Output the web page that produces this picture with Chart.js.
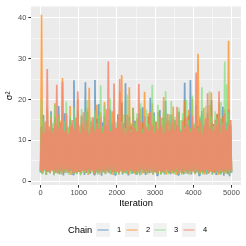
<!DOCTYPE html>
<html>
<head>
<meta charset="utf-8">
<script src="https://cdn.jsdelivr.net/npm/chart.js@4/dist/chart.umd.min.js"></script>
<style>
html,body{margin:0;padding:0;background:#fff;}
canvas{display:block;}
</style>
</head>
<body>
<canvas id="c" width="246" height="246"></canvas>
<script>
// ---- data: thinned trace, one value every 25 iterations (values read as the
// low / high extent of each pixel column of the reference trace) ----
const chainNames = ['1', '2', '3', '4'];
const thin = 25;
const chain1 = [
2.1,13.4,1.8,16.2,2.6,11.8,1.5,14.9,2.3,12.6,1.9,17.1,2.7,13.0,1.6,15.5,2.2,12.1,2.0,18.4,
1.7,14.2,2.4,12.9,1.4,16.6,2.1,13.7,2.8,11.5,1.9,15.1,2.5,13.3,1.6,24.7,2.2,14.0,1.8,17.3,
2.3,12.4,1.7,15.8,2.6,13.1,1.5,24.2,2.0,16.9,2.4,12.2,1.8,14.6,2.9,13.5,1.6,24.8,2.1,15.3,
1.9,18.9,2.5,12.7,1.3,14.4,2.2,16.0,1.8,13.2,2.6,11.9,2.0,17.6,1.7,13.9,2.4,15.2,1.5,12.5,
2.2,16.4,1.9,13.6,2.7,19.2,1.6,14.1,2.3,24.0,2.0,12.8,1.4,15.7,2.5,13.4,1.8,17.9,2.1,14.8,
1.7,12.3,2.4,16.5,1.6,13.8,2.8,18.1,2.0,14.3,1.5,12.6,2.3,15.9,1.9,20.4,2.6,13.1,1.8,16.8,
2.1,14.5,1.4,12.9,2.5,17.4,1.8,13.6,2.2,15.6,1.6,19.6,2.7,12.4,2.0,14.9,1.7,16.3,2.4,13.2,
1.9,15.0,2.3,13.7,1.5,17.0,2.6,12.5,2.0,14.7,1.7,24.1,2.4,13.9,1.8,16.1,2.2,24.8,1.6,14.2,
2.5,12.8,1.9,18.6,2.1,13.5,1.4,15.4,2.7,17.2,1.8,12.7,2.3,14.6,1.6,16.7,2.0,13.3,2.6,19.8,
1.7,14.0,2.2,12.6,1.5,16.4,2.4,13.8,1.9,15.3,2.1,18.2,1.3,12.9,2.5,14.4,1.8,17.5,1.2,13.6,
2.0];
const chain2 = [
2.4,40.8,1.9,14.3,2.7,12.2,1.6,17.5,2.2,13.4,2.0,15.9,2.8,12.6,1.7,19.1,2.3,13.9,1.8,16.2,
2.5,14.8,1.6,25.3,2.1,12.4,2.6,16.7,1.9,13.1,2.3,18.4,1.5,14.0,2.7,12.8,2.0,15.6,1.8,20.1,
2.2,13.3,1.7,16.1,2.6,12.0,1.9,14.6,2.4,17.8,1.5,22.9,2.1,13.7,2.8,15.2,1.8,12.9,2.3,18.7,
2.0,14.2,1.6,16.9,2.5,12.5,2.2,19.4,1.8,13.6,2.7,15.0,1.9,12.3,2.4,17.1,1.5,14.5,2.1,13.0,
2.6,15.8,1.7,21.8,2.3,26.0,1.9,13.2,2.0,16.4,2.8,12.7,1.6,23.0,2.2,14.1,2.5,18.0,1.8,13.8,
2.1,15.4,1.9,12.6,2.4,17.7,1.6,14.4,2.7,21.9,2.0,13.5,1.8,16.6,2.3,12.2,2.6,19.0,1.5,14.7,
2.2,13.9,1.9,17.0,2.5,12.8,1.7,15.5,2.1,20.6,2.8,13.4,1.6,14.9,2.4,16.3,2.0,12.5,1.8,18.3,
2.3,14.6,1.5,13.0,2.6,16.8,2.0,12.4,1.8,15.1,2.2,19.7,1.9,13.7,2.7,17.4,1.6,12.9,2.4,20.2,
2.1,13.8,1.7,16.0,2.5,31.2,1.9,14.3,2.3,12.7,2.0,17.9,1.6,13.5,2.8,15.7,1.8,18.6,2.2,21.8,
2.4,14.0,1.9,12.6,2.6,16.5,1.5,19.3,2.1,13.3,2.3,15.8,1.8,17.6,2.0,12.8,1.7,34.4,2.5,14.9,
2.2];
const chain3 = [
2.0,20.0,1.7,15.3,2.4,13.1,1.5,17.9,2.2,12.7,1.9,16.5,2.6,14.2,1.4,18.8,2.1,13.6,1.8,15.9,
2.3,12.9,1.6,17.2,2.5,14.8,1.9,19.5,2.0,13.4,1.5,16.0,2.4,12.6,1.8,18.1,2.2,14.5,1.7,15.4,
2.6,13.8,1.4,17.6,2.1,12.5,1.9,16.8,2.3,19.9,1.6,13.2,2.5,15.6,2.0,12.9,1.8,17.3,2.2,14.1,
1.5,16.2,2.4,23.4,1.9,13.5,2.1,18.5,1.7,12.8,2.6,15.1,2.0,20.3,1.6,13.9,2.3,16.9,1.8,14.4,
2.2,12.6,1.5,18.2,2.5,14.6,1.9,16.3,2.0,13.0,1.7,21.2,2.4,15.5,1.6,12.7,2.1,17.8,2.3,14.3,
1.8,16.6,2.0,13.3,1.4,19.1,2.5,12.8,1.9,15.8,2.2,17.5,1.6,14.0,2.4,13.6,2.1,23.6,1.7,16.1,
2.3,14.7,1.9,18.7,2.6,12.4,1.5,15.2,2.0,17.0,1.8,22.0,2.2,13.7,1.6,16.4,2.5,19.6,2.0,13.1,
1.7,15.7,2.3,12.6,1.9,18.0,2.1,14.9,1.5,16.7,2.4,13.4,1.8,20.0,2.2,15.0,1.6,12.9,2.0,21.0,
2.5,14.2,1.7,17.4,2.1,13.1,1.9,16.0,2.3,23.0,1.6,12.7,2.4,18.4,2.0,14.6,1.8,22.0,2.2,15.9,
1.5,13.5,2.6,17.1,1.9,15.4,2.1,12.8,1.7,19.4,2.3,14.3,2.0,29.3,1.8,23.7,2.4,16.8,1.6,14.0,
2.1];
const chain4 = [
2.6,13.2,2.2,11.7,2.9,14.6,2.3,27.5,2.5,12.4,2.1,15.3,2.8,11.9,2.4,13.8,2.0,23.6,2.7,12.9,
2.3,14.1,2.6,24.3,2.1,12.2,2.9,16.4,2.4,11.6,2.2,13.5,2.7,15.0,2.0,12.7,2.5,14.4,2.3,22.0,
2.8,11.8,2.2,13.9,2.4,16.9,2.6,12.5,2.1,14.8,2.9,11.4,2.3,13.3,2.5,15.7,2.0,12.1,2.7,14.2,
2.4,12.8,2.2,15.5,2.6,11.9,2.3,13.6,2.8,17.6,2.1,29.3,2.5,12.3,2.9,14.0,2.2,23.9,2.6,13.1,
2.3,15.1,2.0,25.0,2.7,12.6,2.4,14.3,2.2,11.5,2.6,16.2,2.1,13.4,2.8,12.0,2.5,14.9,2.3,13.0,
2.6,12.2,2.2,23.8,2.4,14.6,2.9,11.8,2.1,15.8,2.5,13.2,2.3,12.4,2.7,17.0,2.0,13.7,2.6,11.9,
2.4,14.5,2.2,12.7,2.8,15.9,2.3,13.4,2.5,11.7,2.1,14.1,2.7,16.5,2.4,12.3,2.2,13.9,2.6,15.2,
2.3,12.6,2.9,18.2,2.1,13.3,2.5,11.9,2.4,14.7,2.2,12.9,2.7,15.6,2.0,13.5,2.6,12.0,2.3,16.0,
2.5,13.1,2.2,26.6,2.8,12.4,2.4,14.8,2.1,11.6,2.6,13.7,2.3,15.4,2.7,21.5,2.0,12.8,2.5,14.3,
2.2,12.2,2.6,15.1,2.4,13.6,2.1,22.0,2.8,11.8,2.3,14.0,2.5,16.6,2.2,12.5,2.7,13.8,2.4,15.0,
2.6];
const xTickValues = [0,500,1000,1500,2000,2500,3000,3500,4000,4500,5000];
const yTickValues = [0,5,10,15,20,25,30,35,40];
const xMajorStep = 1000;
const yMajorStep = 10;

// ---- styling ----
const chainColors = ['rgba(55,126,184,0.65)','rgba(255,127,0,0.65)','rgba(120,222,110,0.65)','rgba(246,134,112,0.85)'];
const FONT = '"Liberation Sans", Arial, sans-serif';

const series = [chain1, chain2, chain3, chain4];
const datasets = series.map((vals, k) => ({
  label: chainNames[k],
  data: vals.map((v, i) => ({x: i * thin, y: v})),
  borderColor: chainColors[k],
  backgroundColor: chainColors[k],
  borderWidth: 1.7,
  borderJoinStyle: 'bevel',
  pointRadius: 0,
  tension: 0,
  fill: false,
  order: 4 - k
}));

const panelBg = {
  id: 'panelBg',
  beforeDraw(chart) {
    const {ctx, chartArea: a} = chart;
    ctx.save();
    ctx.fillStyle = '#EBEBEB';
    ctx.fillRect(a.left, a.top, a.right - a.left, a.bottom - a.top);
    ctx.restore();
  }
};

const ggLegend = {
  id: 'ggLegend',
  afterDraw(chart) {
    const ctx = chart.ctx;
    const cy = 230;
    ctx.save();
    ctx.textBaseline = 'middle';
    ctx.fillStyle = '#000';
    ctx.font = '9.3px ' + FONT;
    ctx.textAlign = 'left';
    ctx.fillText('Chain', 68, cy);
    const keyX = [96, 125, 153, 182];
    chart.data.datasets.forEach((ds, k) => {
      const x = keyX[k];
      ctx.fillStyle = '#F2F2F2';
      ctx.fillRect(x, cy - 7, 14, 14);
      ctx.strokeStyle = ds.borderColor;
      ctx.lineWidth = 1.1;
      ctx.beginPath();
      ctx.moveTo(x + 1.5, cy);
      ctx.lineTo(x + 12.5, cy);
      ctx.stroke();
      ctx.fillStyle = '#000';
      ctx.font = '7.5px ' + FONT;
      ctx.fillText(ds.label, x + 21, cy);
    });
    ctx.restore();
  }
};

new Chart(document.getElementById('c'), {
  type: 'line',
  data: {datasets},
  plugins: [panelBg, ggLegend],
  options: {
    responsive: false,
    devicePixelRatio: 1,
    animation: false,
    layout: {padding: {left: 0, right: 5, top: 4, bottom: 0}},
    plugins: {legend: {display: false}, tooltip: {enabled: false}},
    scales: {
      x: {
        type: 'linear',
        min: -250, max: 5250,
        afterBuildTicks: s => { s.ticks = xTickValues.map(v => ({value: v})); },
        afterFit: s => { s.height = 61; },
        border: {display: false},
        grid: {
          color: '#FFFFFF',
          lineWidth: c => (c.tick && c.tick.value % xMajorStep === 0) ? 1 : 0.5,
          drawTicks: true,
          tickLength: 2.7,
          tickWidth: 1,
          tickColor: c => (c.tick && c.tick.value % xMajorStep === 0) ? '#333333' : 'rgba(0,0,0,0)'
        },
        ticks: {
          autoSkip: false, maxRotation: 0, padding: 1,
          color: '#4D4D4D',
          font: {family: FONT, size: 7.5},
          callback: v => (v % xMajorStep === 0) ? String(v) : ''
        },
        title: {
          display: true, text: 'Iteration', color: '#000',
          font: {family: FONT, size: 9.3},
          padding: {top: 0, bottom: 37}
        }
      },
      y: {
        type: 'linear',
        min: -0.96, max: 42.8,
        afterBuildTicks: s => { s.ticks = yTickValues.map(v => ({value: v})); },
        afterFit: s => { s.width = 31; },
        border: {display: false},
        grid: {
          color: '#FFFFFF',
          lineWidth: c => (c.tick && c.tick.value % yMajorStep === 0) ? 1 : 0.5,
          drawTicks: true,
          tickLength: 2.7,
          tickWidth: 1,
          tickColor: c => (c.tick && c.tick.value % yMajorStep === 0) ? '#333333' : 'rgba(0,0,0,0)'
        },
        ticks: {
          autoSkip: false, padding: 2,
          color: '#4D4D4D',
          font: {family: FONT, size: 7.5},
          callback: v => (v % yMajorStep === 0) ? String(v) : ''
        },
        title: {
          display: true, text: 'σ²', color: '#000',
          font: {family: FONT, size: 9.3},
          padding: {top: 4, bottom: 0}
        }
      }
    }
  }
});
</script>
</body>
</html>
